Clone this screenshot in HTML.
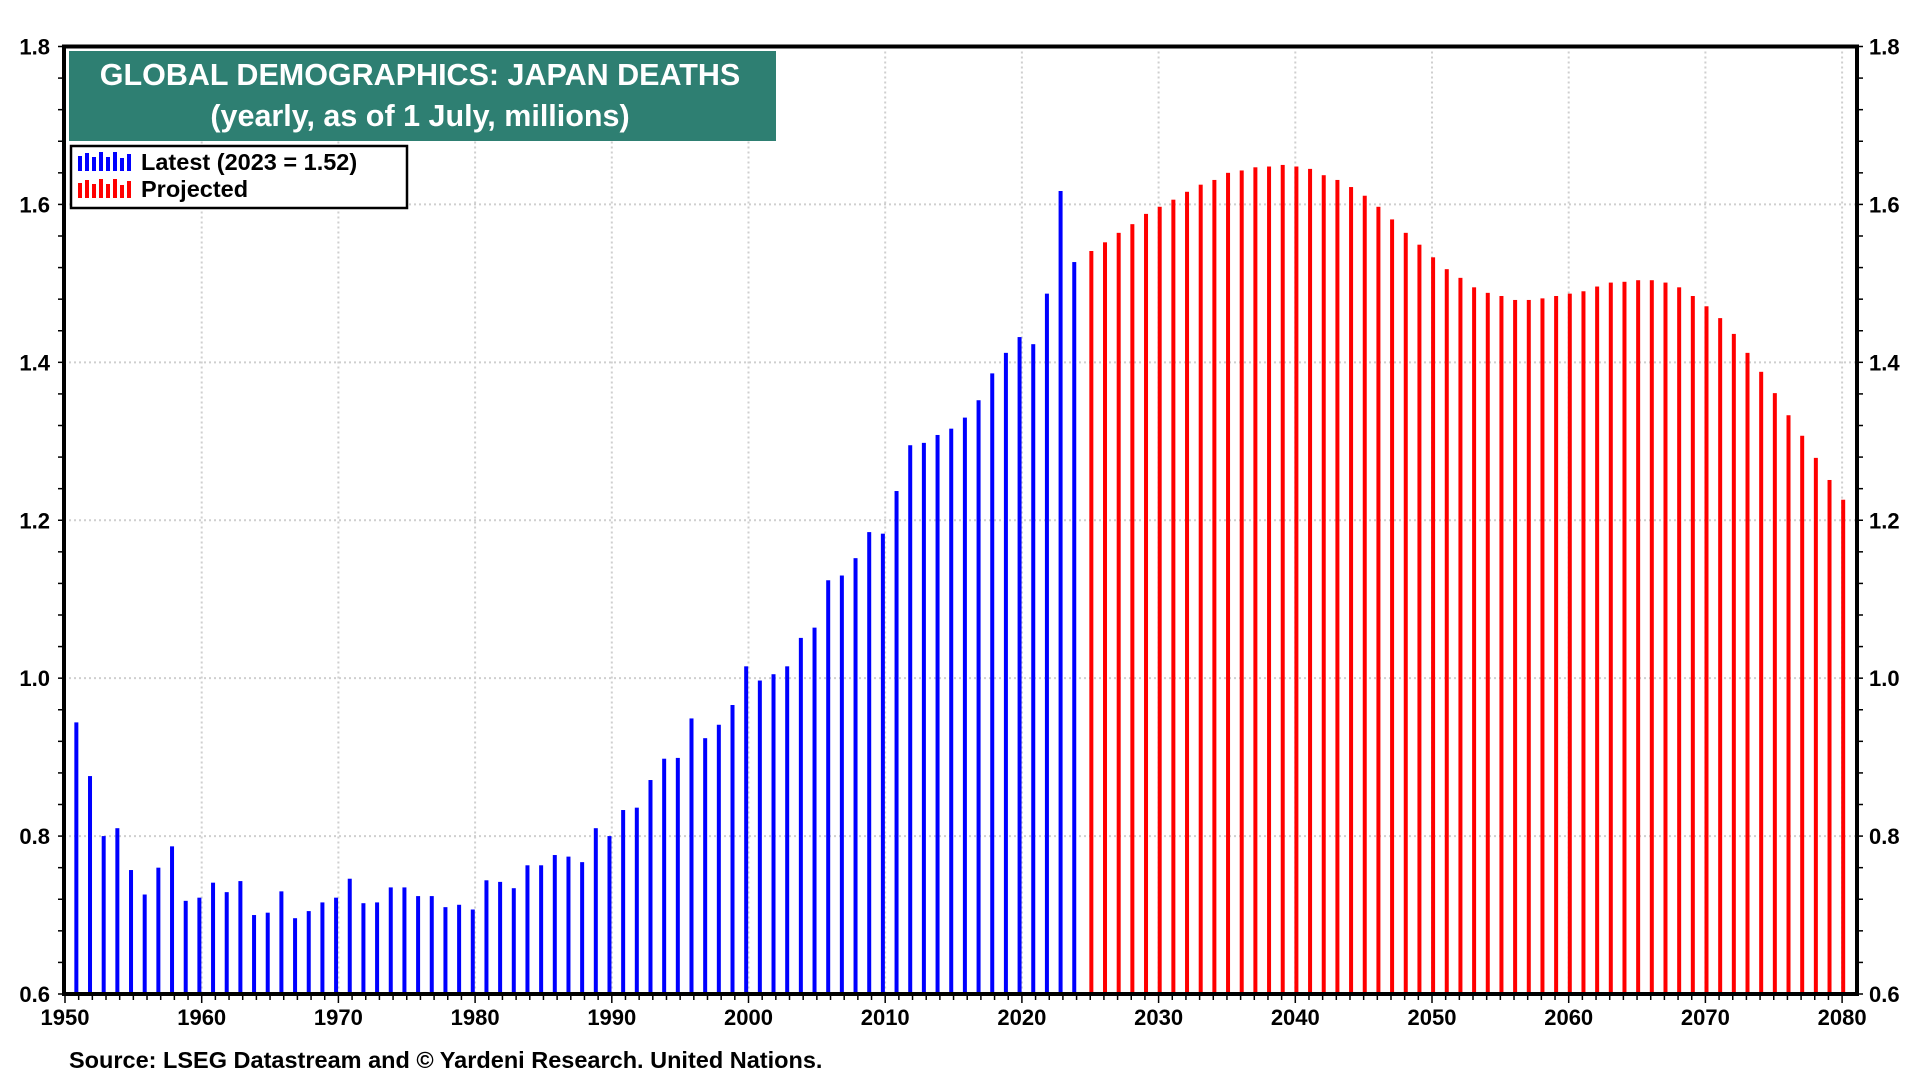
<!DOCTYPE html>
<html><head><meta charset="utf-8"><style>
html,body{margin:0;padding:0;background:#fff;width:1920px;height:1080px;overflow:hidden}
svg text{font-family:"Liberation Sans",Arial,sans-serif;font-weight:bold}
</style></head><body>
<svg id="chart" width="1920" height="1080" xmlns="http://www.w3.org/2000/svg">
<g id="grid"></g>
<g id="bars"></g>
<g id="axes"></g>
<g>
<rect x="69" y="51" width="707" height="90" fill="#2e7f72"/>
<text x="420" y="85" fill="#fff" font-size="30.5" text-anchor="middle">GLOBAL DEMOGRAPHICS: JAPAN DEATHS</text>
<text x="420" y="126" fill="#fff" font-size="30.5" text-anchor="middle">(yearly, as of 1 July, millions)</text>
</g>
<g>
<rect x="71" y="146" width="336" height="62" fill="#fff" stroke="#000" stroke-width="2.5"/>
<g id="legblue"></g>
<g id="legred"></g>
<text x="141" y="170" font-size="23.5">Latest (2023 = 1.52)</text>
<text x="141" y="197" font-size="23.5">Projected</text>
</g>
<text x="69" y="1068" font-size="23.5">Source: LSEG Datastream and © Yardeni Research. United Nations.</text>
</svg>
<script>
const blueStartYear = 1950;
const blueValues = [0.944,0.876,0.80,0.81,0.757,0.726,0.76,0.787,0.718,0.722,0.741,0.729,0.743,0.70,0.703,0.73,0.696,0.705,0.716,0.722,0.746,0.715,0.716,0.735,0.735,0.724,0.724,0.71,0.713,0.707,0.744,0.742,0.734,0.763,0.763,0.776,0.774,0.767,0.81,0.80,0.833,0.836,0.871,0.898,0.899,0.949,0.924,0.941,0.966,1.015,0.997,1.005,1.015,1.051,1.064,1.124,1.13,1.152,1.185,1.183,1.237,1.295,1.298,1.308,1.316,1.33,1.352,1.386,1.412,1.432,1.423,1.487,1.617,1.527];
const redStartYear = 2025;
const redValues = [1.541,1.552,1.564,1.575,1.588,1.597,1.606,1.616,1.625,1.631,1.64,1.643,1.647,1.648,1.65,1.648,1.645,1.637,1.631,1.622,1.611,1.597,1.581,1.564,1.549,1.533,1.518,1.507,1.495,1.488,1.484,1.479,1.479,1.481,1.484,1.487,1.49,1.496,1.501,1.502,1.504,1.504,1.501,1.495,1.484,1.471,1.456,1.436,1.412,1.388,1.361,1.333,1.307,1.279,1.251,1.226];
const yTicks = [0.6,0.8,1.0,1.2,1.4,1.6,1.8];
const xTicks = [1950,1960,1970,1980,1990,2000,2010,2020,2030,2040,2050,2060,2070,2080];

const NS='http://www.w3.org/2000/svg';
const L=64,R=1857,T=46.5,B=994;
function xs(v){return 65+(v-1950)*13.67;}
function ys(v){return B-(v-0.6)*(B-T)/1.2;}
function mk(tag,attrs,parent){const e=document.createElementNS(NS,tag);for(const k in attrs)e.setAttribute(k,attrs[k]);parent.appendChild(e);return e;}
const grid=document.getElementById('grid'),bars=document.getElementById('bars'),axes=document.getElementById('axes');
yTicks.forEach(v=>{
  if(v>0.6&&v<1.8){const g=mk('line',{x1:L,x2:R,y1:ys(v),y2:ys(v),stroke:'#cfcfcf','stroke-width':2,'stroke-dasharray':'2,3'},grid);
  
  }
  const t1=mk('text',{x:L-14,y:ys(v)+8,'font-size':22,'text-anchor':'end'},axes);t1.textContent=v.toFixed(1);
  
  
  const t2=mk('text',{x:R+12,y:ys(v)+8,'font-size':22},axes);t2.textContent=v.toFixed(1);
  
  
});
for(let v=0.6;v<=1.8001;v+=0.04){
  mk('line',{x1:L-6,x2:L,y1:ys(v),y2:ys(v),stroke:'#000','stroke-width':1.5},axes);
  mk('line',{x1:R,x2:R+6,y1:ys(v),y2:ys(v),stroke:'#000','stroke-width':1.5},axes);
}
xTicks.forEach(v=>{
  if(v>1950){const g=mk('line',{x1:xs(v),x2:xs(v),y1:T,y2:B,stroke:'#cfcfcf','stroke-width':2,'stroke-dasharray':'2,3'},grid);
  
  }
  const t=mk('text',{x:xs(v),y:B+31,'font-size':22,'text-anchor':'middle'},axes);t.textContent=v;
  
  
});
for(let y=1950;y<=2080;y++){
  mk('line',{x1:xs(y),x2:xs(y),y1:B,y2:B+(y%10==0?9:6),stroke:'#000','stroke-width':1.5},axes);
}
blueValues.forEach((v,i)=>{
  const x=xs(blueStartYear+i+0.83);
  const r=mk('rect',{x:x-2,y:ys(v),width:4,height:B-ys(v),fill:'#0000ff'},bars);
  
  
});
redValues.forEach((v,i)=>{
  const x=xs(redStartYear+i+0.08);
  const r=mk('rect',{x:x-2,y:ys(v),width:4,height:B-ys(v),fill:'#ff0000'},bars);
  
  
});
const frame=mk('rect',{x:L,y:T,width:R-L,height:B-T,fill:'none',stroke:'#000','stroke-width':4},axes);


const legH=[15,18,14,19,14,19,13,17];
[['legblue','#0000ff',171],['legred','#ff0000',198]].forEach(([id,c,base])=>{
  const g=document.getElementById(id);
  legH.forEach((h,i)=>mk('rect',{x:78+i*7,y:base-h,width:4,height:h,fill:c},g));
});
</script>
</body></html>
